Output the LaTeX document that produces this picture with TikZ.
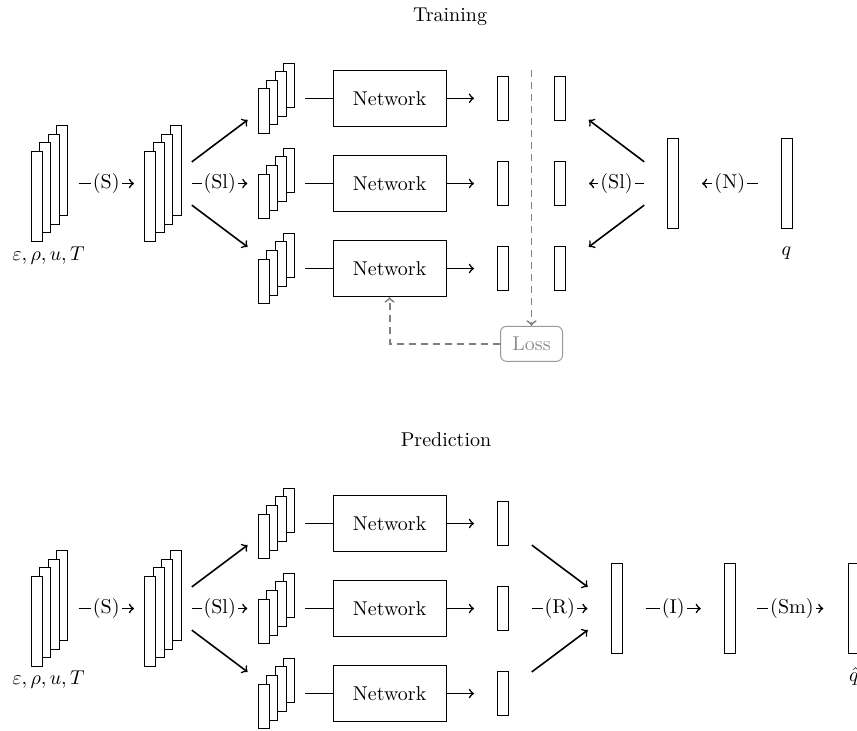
\documentclass[tikz,border=0pt]{standalone}
\usetikzlibrary{calc}
\newcommand\mkstack[4]{%
  \foreach \i in {3,2,1,0}{
    \node[#4] (#1-\i) at ({#2-12.85+8.57*\i},{#3+12.85-8.57*\i}) {};
  }
  \coordinate (#1) at (#2,#3);
}
\begin{document}
\begin{tikzpicture}[x=0.5pt,y=-0.5pt,
  bar/.style={draw, fill=white, line width=0.5pt, minimum width=5.5pt, inner sep=0pt},
  tall/.style={bar, minimum height=45pt},
  short/.style={bar, minimum height=22.25pt},
  net/.style={draw, line width=0.5pt, minimum width=56.4pt, minimum height=28.1pt},
  arr/.style={->, thick, shorten <=14.5pt, shorten >=14.5pt},
  diag/.style={->, thick, shorten <=18pt, shorten >=18pt},
  lbl/.style={fill=white, inner sep=1pt, midway},
  dsh/.style={black!50, line width=0.9pt, dash pattern=on 3.5pt off 2.5pt},
  lossbox/.style={draw=black!40, text=black!45, rounded corners=3pt, minimum width=31pt, minimum height=17.5pt, line width=0.5pt}
]
\useasboundingbox (0,0) rectangle (857,730);

% ---------- Training ----------
\node[anchor=base] (t1) at (450,21.7) {Training};

\mkstack{A}{49.6}{183.5}{tall}
\mkstack{B}{163}{183.5}{tall}
\mkstack{S1}{276.35}{98.3}{short}
\mkstack{S2}{276.35}{183.5}{short}
\mkstack{S3}{276.35}{268.5}{short}
\node[net] (N1) at (389.6,98.3) {Network};
\node[net] (N2) at (389.6,183.5) {Network};
\node[net] (N3) at (389.6,268.5) {Network};
\node[short] (O1) at (503,98.3) {};
\node[short] (O2) at (503,183.5) {};
\node[short] (O3) at (503,268.5) {};
\node[short] (P1) at (560,98.3) {};
\node[short] (P2) at (560,183.5) {};
\node[short] (P3) at (560,268.5) {};
\node[tall] (Q) at (673,183.5) {};
\node[tall] (Qr) at (786.5,183.5) {};
\node (la) at (48.5,256) {$\varepsilon, \rho, u, T$};
\node (lq) at (786.5,253.3) {$q$};

\draw[arr] (A) -- node[lbl]{(S)} (B);
\draw[arr] (B) -- node[lbl]{(Sl)} (S2);
\draw[diag] (B) -- (S1);
\draw[diag] (B) -- (S3);
\foreach \k in {1,2,3}{
  \draw[thick, shorten <=14.5pt] (S\k) -- (N\k.west);
  \draw[->, thick, shorten >=14.5pt] (N\k.east) -- (O\k.center);
}
\draw[arr] (Q.center) -- node[lbl]{(Sl)} (P2.center);
\draw[diag] (Q.center) -- (P1.center);
\draw[diag] (Q.center) -- (P3.center);
\draw[arr] (Qr.center) -- node[lbl]{(N)} (Q.center);

\coordinate (dtop) at (531.5,70);
\node[lossbox] (L) at (531.5,343.8) {Loss};
\draw[dsh,->] (dtop) -- (L.north);
\draw[dsh,->] (L.west) -| (N3.south);

% ---------- Prediction ----------
\node[anchor=base] (t2) at (446,446.7) {Prediction};

\mkstack{C}{49.6}{608.5}{tall}
\mkstack{D}{163}{608.5}{tall}
\mkstack{T1}{276.35}{523.5}{short}
\mkstack{T2}{276.35}{608.5}{short}
\mkstack{T3}{276.35}{693.5}{short}
\node[net] (M1) at (389.6,523.5) {Network};
\node[net] (M2) at (389.6,608.5) {Network};
\node[net] (M3) at (389.6,693.5) {Network};
\node[short] (U1) at (503,523.5) {};
\node[short] (U2) at (503,608.5) {};
\node[short] (U3) at (503,693.5) {};
\node[tall] (V) at (616.5,608.5) {};
\node[tall] (W) at (729.8,608.5) {};
\node[tall] (X) at (854,608.5) {};
\node (lc) at (48.5,680) {$\varepsilon, \rho, u, T$};
\node (lx) at (854,676) {$\hat{q}$};

\draw[arr] (C) -- node[lbl]{(S)} (D);
\draw[arr] (D) -- node[lbl]{(Sl)} (T2);
\draw[diag] (D) -- (T1);
\draw[diag] (D) -- (T3);
\foreach \k in {1,2,3}{
  \draw[thick, shorten <=14.5pt] (T\k) -- (M\k.west);
  \draw[->, thick, shorten >=14.5pt] (M\k.east) -- (U\k.center);
}
\draw[diag] (U1.center) -- (V.center);
\draw[diag] (U3.center) -- (V.center);
\draw[arr] (U2.center) -- node[lbl]{(R)} (V.center);
\draw[arr] (V.center) -- node[lbl]{(I)} (W.center);
\draw[->, thick, shorten <=13.75pt, shorten >=15.35pt] (W.center) -- node[lbl]{(Sm)} (X.center);
\end{tikzpicture}
\end{document}
